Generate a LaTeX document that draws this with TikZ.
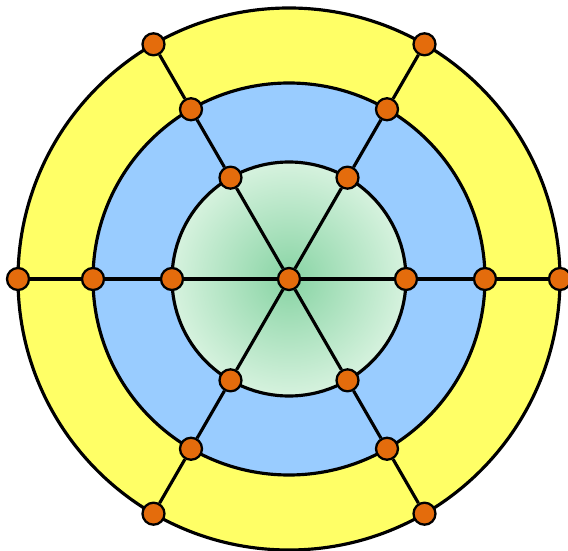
\documentclass[tikz,border=0pt]{standalone}
\usetikzlibrary{calc}
\definecolor{ringyellow}{RGB}{255,255,102}
\definecolor{ringblue}{RGB}{153,204,255}
\definecolor{coregreen}{RGB}{136,212,164}
\definecolor{corepale}{RGB}{214,242,222}
\definecolor{dotorange}{RGB}{228,108,12}

\begin{document}
\begin{tikzpicture}[x=0.02cm, y=0.02cm, line width=1.8pt,
    dot/.style={circle, draw=black, fill=dotorange, line width=1.3pt, inner sep=0pt, minimum size=0.44cm}]
        \useasboundingbox (-289,-272) rectangle (279,279);

        % Draw the rings
        \fill[ringyellow] (0,0) circle (271);
        \fill[ringblue] (0,0) circle (196);
        \shade[inner color=coregreen, outer color=corepale] (0,0) circle (117);
        \draw (0,0) circle (271);
        \draw (0,0) circle (196);
        \draw (0,0) circle (117);

        % Place the dots on the rings
        \node[dot] (c) at (0,0) {};
        \foreach \k in {0,...,5} {
            \node[dot] (i\k) at ({60*\k}:117) {};
            \node[dot] (m\k) at ({60*\k}:196) {};
            \node[dot] (o\k) at ({60*\k}:271) {};
        }

        % Draw the spokes
        \foreach \k in {0,...,5}
            \draw (c) -- (i\k) -- (m\k) -- (o\k);
    \end{tikzpicture}
\end{document}
